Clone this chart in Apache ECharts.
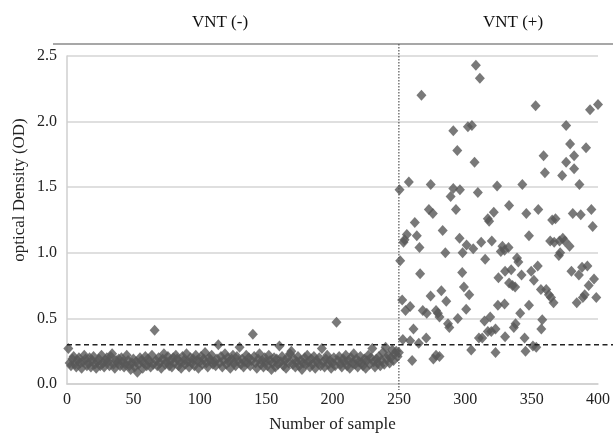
<!DOCTYPE html>
<html>
<head>
<meta charset="utf-8">
<script src="https://cdn.jsdelivr.net/npm/echarts@6/dist/echarts.min.js"></script>
<style>
html,body{margin:0;padding:0;background:#fff;}
#chart{width:613px;height:438px;}
</style>
</head>
<body>
<div id="chart"></div>
<script>
// VNT (-) samples 1..250 : optical density
const negValues = [
0.27,0.16,0.14,0.19,0.21,0.15,0.13,0.18,0.20,0.16,
0.12,0.17,0.22,0.19,0.14,0.16,0.20,0.13,0.18,0.21,
0.15,0.12,0.17,0.19,0.14,0.22,0.16,0.13,0.18,0.20,
0.17,0.14,0.21,0.23,0.15,0.12,0.18,0.16,0.19,0.14,
0.20,0.17,0.13,0.15,0.22,0.18,0.14,0.11,0.16,0.19,
0.13,0.17,0.09,0.15,0.20,0.18,0.12,0.16,0.21,0.14,
0.19,0.17,0.13,0.22,0.15,0.41,0.18,0.14,0.20,0.16,
0.12,0.19,0.23,0.15,0.17,0.21,0.14,0.18,0.13,0.20,
0.16,0.22,0.19,0.14,0.17,0.12,0.21,0.18,0.15,0.23,
0.17,0.13,0.20,0.16,0.19,0.14,0.22,0.18,0.12,0.17,
0.21,0.15,0.19,0.24,0.16,0.13,0.20,0.18,0.22,0.15,
0.17,0.14,0.19,0.30,0.16,0.21,0.13,0.18,0.23,0.15,
0.20,0.17,0.12,0.19,0.22,0.16,0.14,0.21,0.18,0.28,
0.15,0.19,0.13,0.17,0.22,0.16,0.20,0.14,0.18,0.38,
0.21,0.16,0.12,0.19,0.23,0.15,0.18,0.13,0.20,0.17,
0.14,0.22,0.18,0.11,0.16,0.20,0.13,0.19,0.15,0.29,
0.17,0.21,0.14,0.18,0.12,0.20,0.16,0.23,0.25,0.15,
0.19,0.13,0.17,0.21,0.14,0.18,0.11,0.16,0.20,0.15,
0.22,0.17,0.13,0.19,0.15,0.21,0.12,0.18,0.16,0.20,
0.14,0.27,0.17,0.13,0.19,0.22,0.15,0.18,0.12,0.16,
0.20,0.14,0.47,0.18,0.21,0.15,0.13,0.19,0.17,0.22,
0.14,0.18,0.12,0.20,0.16,0.23,0.15,0.19,0.13,0.17,
0.21,0.16,0.14,0.19,0.12,0.18,0.22,0.15,0.20,0.27,
0.17,0.13,0.19,0.16,0.21,0.14,0.18,0.24,0.15,0.28,
0.19,0.22,0.16,0.20,0.26,0.18,0.23,0.25,0.21,0.24
];

// VNT (+) samples: sample number and optical density
const posSamples = [
250.5,251,252.5,253,253.5,254.3,255,256,257.5,258.5,
258.5,260,261,262,263.5,265,265.5,266,267,268,
270.6,271,272.6,273.9,274,275.6,276,278,278,279.4,
280.6,280.6,282,283,285,285.7,287,288,289,291,
291,293,294,294.4,295.7,296,297.7,298,299,300.7,
301,302,303,304.5,305,306,307,308,309.5,310.3,
311,312,312.8,314.5,315,317,317,318,318.8,319.6,
320,321.5,322.8,322.8,324,324.6,325,326.8,328,329.6,
329.6,330,330,332.6,333,333,334.6,335.6,336.6,337.6,
337.9,339,340,341.4,342.4,343,344.7,345.4,346,348,
348,349.7,351,351.7,353,353.5,354.6,355,357,357.3,
358,359,360,361,363,364,364.6,365.5,366.5,367,
368,370.5,371,371.5,373,373.5,375,376,376,378.6,
379,380,381,382,382,384,385.6,386,387,388,
388.6,390,391,392,393,394,395,396,397,398.7,
400
];
const posValues = [
1.48,0.94,0.64,0.34,1.08,1.10,0.56,1.14,1.54,0.59,
0.33,0.18,0.42,1.23,1.13,0.31,1.04,0.84,2.20,0.56,
0.35,0.54,1.33,0.67,1.52,1.30,0.19,0.56,0.22,0.54,
0.51,0.21,0.71,1.17,1.00,0.63,0.46,0.43,1.43,1.93,
1.49,1.33,1.78,0.50,1.11,1.48,0.85,1.00,0.74,0.57,
1.06,1.96,0.68,0.26,1.97,1.03,1.69,2.43,1.46,0.35,
2.33,1.08,0.35,0.48,0.95,1.26,0.40,1.24,0.51,0.40,
1.09,1.31,0.42,0.24,1.51,0.60,0.81,1.01,1.05,1.02,
0.61,0.86,0.36,1.04,1.36,0.77,0.87,0.75,0.43,0.74,
0.46,0.96,0.93,0.54,0.83,1.52,0.35,0.25,1.30,1.13,
0.60,0.86,0.29,0.79,2.12,0.28,0.90,1.33,0.72,0.42,
0.49,1.74,1.61,0.72,0.68,1.09,0.66,1.25,0.62,1.08,
1.26,0.98,1.09,1.00,1.59,1.11,1.09,1.97,1.69,1.05,
1.83,0.86,1.30,1.74,1.64,0.62,0.83,1.52,1.29,0.89,
0.66,0.68,1.80,0.90,0.75,2.09,1.33,1.20,0.80,0.66,
2.13
];

const cutoff = 0.3;          // dashed cut-off line
const groupSplit = 250;      // dotted divider between groups
const groupLabels = ['VNT (-)', 'VNT (+)'];
const xTicks = [0, 50, 100, 150, 200, 250, 300, 350, 400];
const yTicks = [0.0, 0.5, 1.0, 1.5, 2.0, 2.5];

const FONT = '"Liberation Serif", "DejaVu Serif", serif';
const MARK = '#575757';

const negData = negValues.map((v, i) => [i + 1, v]);
const posData = posSamples.map((s, i) => [s, posValues[i]]);

const chart = echarts.init(document.getElementById('chart'), null, {renderer: 'canvas'});

chart.setOption({
  animation: false,
  backgroundColor: '#fff',
  grid: {left: 67, right: 15, top: 56, bottom: 54, containLabel: false},
  xAxis: {
    type: 'value',
    min: xTicks[0], max: xTicks[xTicks.length - 1], interval: 50,
    name: 'Number of sample',
    nameLocation: 'middle',
    nameGap: 32,
    nameTextStyle: {fontFamily: FONT, fontSize: 17, color: '#222'},
    axisLine: {show: true, lineStyle: {color: '#cfcfcf', width: 1.5}},
    axisTick: {show: false},
    axisLabel: {fontFamily: FONT, fontSize: 16, color: '#222', margin: 8},
    splitLine: {show: false}
  },
  yAxis: {
    type: 'value',
    min: yTicks[0], max: yTicks[yTicks.length - 1], interval: 0.5,
    axisLine: {show: true, lineStyle: {color: '#cfcfcf', width: 1.5}},
    axisTick: {show: false},
    axisLabel: {fontFamily: FONT, fontSize: 16, color: '#222', margin: 10,
      formatter: v => v.toFixed(1)},
    splitLine: {show: true, lineStyle: {color: '#d4d4d4', width: 1.5}}
  },
  series: [
    {
      type: 'scatter', name: groupLabels[0], data: negData,
      symbol: 'diamond', symbolSize: [10, 11],
      itemStyle: {color: MARK}
    },
    {
      type: 'scatter', name: groupLabels[1], data: posData,
      symbol: 'diamond', symbolSize: [10, 11],
      itemStyle: {color: MARK}
    }
  ]
});

const yCut = chart.convertToPixel({gridIndex: 0}, [0, cutoff])[1];
const x0 = chart.convertToPixel({gridIndex: 0}, [0, 0]);
const xSplit = chart.convertToPixel({gridIndex: 0}, [groupSplit, 0])[0];

chart.setOption({
  graphic: [
    {type: 'line', shape: {x1: 53, y1: 44, x2: 613, y2: 44},
     style: {stroke: '#8a8a8a', lineWidth: 1.5}, z: 10},
    {type: 'line', shape: {x1: xSplit, y1: 44, x2: xSplit, y2: x0[1] + 6},
     style: {stroke: '#555', lineWidth: 1.2, lineDash: [1.5, 1.5]}, z: 10},
    {type: 'line', shape: {x1: x0[0], y1: yCut, x2: 613, y2: yCut},
     style: {stroke: '#222', lineWidth: 1.5, lineDash: [5, 3.5]}, z: 10},
    {type: 'text', x: 220, y: 23,
     style: {text: groupLabels[0], font: '17px ' + FONT, fill: '#111',
             textAlign: 'center', textVerticalAlign: 'middle'}},
    {type: 'text', x: 513, y: 23,
     style: {text: groupLabels[1], font: '17px ' + FONT, fill: '#111',
             textAlign: 'center', textVerticalAlign: 'middle'}},
    {type: 'text', x: 20, y: 190, rotation: Math.PI / 2,
     style: {text: 'optical Density (OD)', font: '17px ' + FONT, fill: '#222',
             textAlign: 'center', textVerticalAlign: 'middle'}}
  ]
});
</script>
</body>
</html>
